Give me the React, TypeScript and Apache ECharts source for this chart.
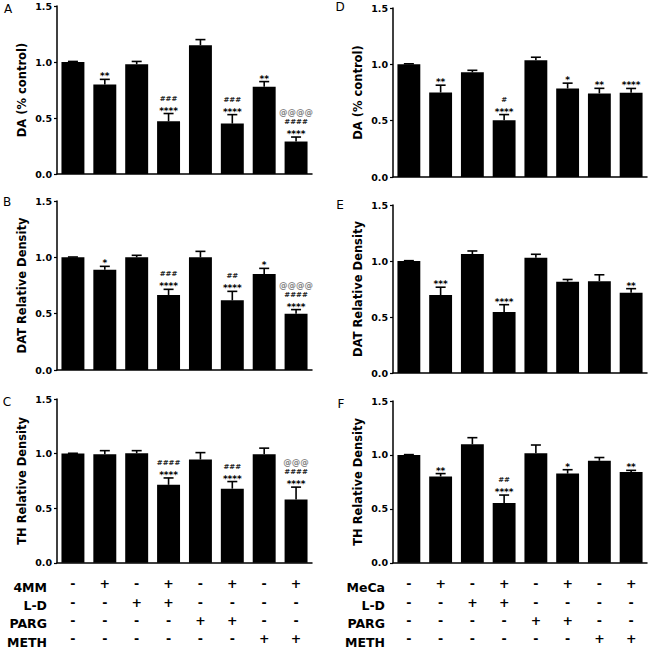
import React, { useEffect, useRef } from "react";
import * as echarts from "echarts";

const categories = ["1", "2", "3", "4", "5", "6", "7", "8"];

// Panel A – DA (% control), 4MM study
const valuesA = [1.0, 0.8, 0.98, 0.47, 1.15, 0.45, 0.78, 0.29];
const errorsA = [0.005, 0.045, 0.025, 0.07, 0.05, 0.08, 0.045, 0.04];
const starsA = ["", "**", "", "****", "", "****", "**", "****"];
const hashesA = ["", "", "", "###", "", "###", "", "####"];
const atsA = ["", "", "", "", "", "", "", "@@@@"];

// Panel B – DAT Relative Density, 4MM study
const valuesB = [1.0, 0.89, 1.0, 0.666, 1.0, 0.618, 0.852, 0.5];
const errorsB = [0.003, 0.03, 0.018, 0.05, 0.053, 0.08, 0.05, 0.036];
const starsB = ["", "*", "", "****", "", "****", "*", "****"];
const hashesB = ["", "", "", "###", "", "##", "", "####"];
const atsB = ["", "", "", "", "", "", "", "@@@@"];

// Panel C – TH Relative Density, 4MM study
const valuesC = [1.0, 0.994, 1.003, 0.714, 0.946, 0.679, 0.994, 0.58];
const errorsC = [0.003, 0.033, 0.024, 0.063, 0.063, 0.065, 0.056, 0.113];
const starsC = ["", "", "", "****", "", "****", "", "****"];
const hashesC = ["", "", "", "####", "", "###", "", "####"];
const atsC = ["", "", "", "", "", "", "", "@@@"];

// Panel D – DA (% control), MeCa study
const valuesD = [1.0, 0.75, 0.929, 0.504, 1.036, 0.786, 0.742, 0.748];
const errorsD = [0.005, 0.065, 0.018, 0.05, 0.027, 0.047, 0.045, 0.038];
const starsD = ["", "**", "", "****", "", "*", "**", "****"];
const hashesD = ["", "", "", "#", "", "", "", ""];
const atsD = ["", "", "", "", "", "", "", ""];

// Panel E – DAT Relative Density, MeCa study
const valuesE = [1.0, 0.696, 1.0625, 0.545, 1.03, 0.815, 0.82, 0.717];
const errorsE = [0.003, 0.07, 0.027, 0.065, 0.03, 0.02, 0.057, 0.036];
const starsE = ["", "***", "", "****", "", "", "", "**"];
const hashesE = ["", "", "", "", "", "", "", ""];
const atsE = ["", "", "", "", "", "", "", ""];

// Panel F – TH Relative Density, MeCa study
const valuesF = [1.0, 0.8, 1.098, 0.554, 1.015, 0.827, 0.946, 0.842];
const errorsF = [0.003, 0.027, 0.062, 0.074, 0.077, 0.036, 0.03, 0.015];
const starsF = ["", "**", "", "****", "", "*", "", "**"];
const hashesF = ["", "", "", "##", "", "", "", ""];
const atsF = ["", "", "", "", "", "", "", ""];

// Treatment table
const rowLabelsLeft = ["4MM", "L-D", "PARG", "METH"];
const rowLabelsRight = ["MeCa", "L-D", "PARG", "METH"];
const drugRow = ["-", "+", "-", "+", "-", "+", "-", "+"];
const ldRow = ["-", "-", "+", "+", "-", "-", "-", "-"];
const pargRow = ["-", "-", "-", "-", "+", "+", "-", "-"];
const methRow = ["-", "-", "-", "-", "-", "-", "+", "+"];

const yTicks = [0, 0.5, 1.0, 1.5];

const FONT = '"DejaVu Sans", "Liberation Sans", sans-serif';

export default function App() {
  const ref = useRef<HTMLDivElement>(null);

  useEffect(() => {
    if (!ref.current) return;
    const chart = echarts.init(ref.current, undefined, { renderer: "svg" });

    const panels = [
      { letter: "A", name: "DA (% control)", values: valuesA, errors: errorsA, stars: starsA, hashes: hashesA, ats: atsA, grid: { left: 57, top: 6, width: 255, height: 168 }, bottom: false },
      { letter: "B", name: "DAT Relative Density", values: valuesB, errors: errorsB, stars: starsB, hashes: hashesB, ats: atsB, grid: { left: 57, top: 201, width: 255, height: 169 }, bottom: false },
      { letter: "C", name: "TH Relative Density", values: valuesC, errors: errorsC, stars: starsC, hashes: hashesC, ats: atsC, grid: { left: 57, top: 399, width: 255, height: 168 }, bottom: true },
      { letter: "D", name: "DA (% control)", values: valuesD, errors: errorsD, stars: starsD, hashes: hashesD, ats: atsD, grid: { left: 393, top: 8, width: 254, height: 169 }, bottom: false },
      { letter: "E", name: "DAT Relative Density", values: valuesE, errors: errorsE, stars: starsE, hashes: hashesE, ats: atsE, grid: { left: 393, top: 205, width: 254, height: 168 }, bottom: false },
      { letter: "F", name: "TH Relative Density", values: valuesF, errors: errorsF, stars: starsF, hashes: hashesF, ats: atsF, grid: { left: 393, top: 401, width: 254, height: 168 }, bottom: true },
    ];

    const grids = panels.map((p) => p.grid);
    const xAxes = panels.map((p, gi) => ({
      type: "category",
      gridIndex: gi,
      data: categories,
      axisLine: { show: true, lineStyle: { color: "#000", width: 1.5 } },
      axisTick: { show: false },
      axisLabel: p.bottom
        ? {
            show: true,
            interval: 0,
            margin: 12,
            fontFamily: FONT,
            fontWeight: "bold",
            fontSize: 12.5,
            lineHeight: 18.3,
            color: "#000",
            formatter: (_: string, i: number) =>
              `${drugRow[i]}\n${ldRow[i]}\n${pargRow[i]}\n${methRow[i]}`,
          }
        : { show: false },
    }));
    const yAxes = panels.map((p, gi) => ({
      type: "value",
      gridIndex: gi,
      min: yTicks[0],
      max: yTicks[yTicks.length - 1],
      interval: 0.5,
      name: p.name,
      nameLocation: "middle",
      nameGap: 29,
      nameTextStyle: { fontFamily: FONT, fontWeight: "bold", fontSize: 11.5, color: "#000" },
      axisLine: { show: true, lineStyle: { color: "#000", width: 1.5 } },
      axisTick: { show: true, length: 3, lineStyle: { color: "#000", width: 1.2 } },
      splitLine: { show: false },
      axisLabel: {
        fontFamily: FONT,
        fontWeight: "bold",
        fontSize: 9.5,
        color: "#000",
        margin: 5,
        formatter: (v: number) => v.toFixed(1),
      },
    }));

    const series: any[] = [];
    panels.forEach((p, gi) => {
      series.push({
        type: "bar",
        xAxisIndex: gi,
        yAxisIndex: gi,
        data: p.values,
        barWidth: "72%",
        itemStyle: { color: "#000" },
        silent: true,
      });
      series.push({
        type: "custom",
        xAxisIndex: gi,
        yAxisIndex: gi,
        z: 5,
        silent: true,
        data: p.values.map((v, i) => [i, v, p.errors[i]]),
        renderItem: (params: any, api: any) => {
          const i = api.value(0);
          const v = api.value(1);
          const e = api.value(2);
          const base = api.coord([i, v]);
          const top = api.coord([i, v + e]);
          const children: any[] = [
            { type: "line", shape: { x1: top[0], y1: base[1], x2: top[0], y2: top[1] }, style: { stroke: "#000", lineWidth: 1.6 } },
            { type: "line", shape: { x1: top[0] - 5, y1: top[1], x2: top[0] + 5, y2: top[1] }, style: { stroke: "#000", lineWidth: 1.6 } },
          ];
          const idx = params.dataIndex;
          const lines = [
            { t: p.stars[idx], color: "#000", font: `bold 9px ${FONT}`, dy: 2 },
            { t: p.hashes[idx], color: "#222", font: `bold 7px ${FONT}`, dy: 0 },
            { t: p.ats[idx], color: "#888", font: `bold 8.5px ${FONT}`, dy: 0 },
          ].filter((l) => l.t);
          lines.forEach((l, k) => {
            const y = top[1] - 5 - k * 10 + l.dy;
            children.push({
              type: "text",
              style: {
                text: l.t,
                x: top[0],
                y,
                fill: l.color,
                font: l.font,
                align: "center",
                verticalAlign: "middle",
                textAlign: "center",
                textVerticalAlign: "middle",
              },
            });
          });
          return { type: "group", children };
        },
      });
    });

    const graphic: any[] = [];
    const letterPos: Record<string, [number, number]> = {
      A: [8, 9], B: [7, 202], C: [7, 402], D: [340, 7], E: [340, 205], F: [341, 404],
    };
    panels.forEach((p) => {
      const [x, y] = letterPos[p.letter];
      graphic.push({
        type: "text",
        x,
        y,
        style: { text: p.letter, font: `12px ${FONT}`, fill: "#000", textAlign: "center", textVerticalAlign: "middle", align: "center", verticalAlign: "middle" },
      });
    });
    const rowYs = [587, 605, 623, 642];
    rowYs.forEach((y, k) => {
      graphic.push({
        type: "text", x: 47, y,
        style: { text: rowLabelsLeft[k], font: `bold 12.5px ${FONT}`, fill: "#000", textAlign: "right", textVerticalAlign: "middle", align: "right", verticalAlign: "middle" },
      });
      graphic.push({
        type: "text", x: 385, y,
        style: { text: rowLabelsRight[k], font: `bold 12.5px ${FONT}`, fill: "#000", textAlign: "right", textVerticalAlign: "middle", align: "right", verticalAlign: "middle" },
      });
    });

    chart.setOption({
      animation: false,
      backgroundColor: "#fff",
      grid: grids,
      xAxis: xAxes,
      yAxis: yAxes,
      series,
      graphic,
    });

    return () => chart.dispose();
  }, []);

  return (
    <div
      ref={ref}
      style={{ position: "absolute", left: 0, top: 0, width: 648, height: 648 }}
    />
  );
}
